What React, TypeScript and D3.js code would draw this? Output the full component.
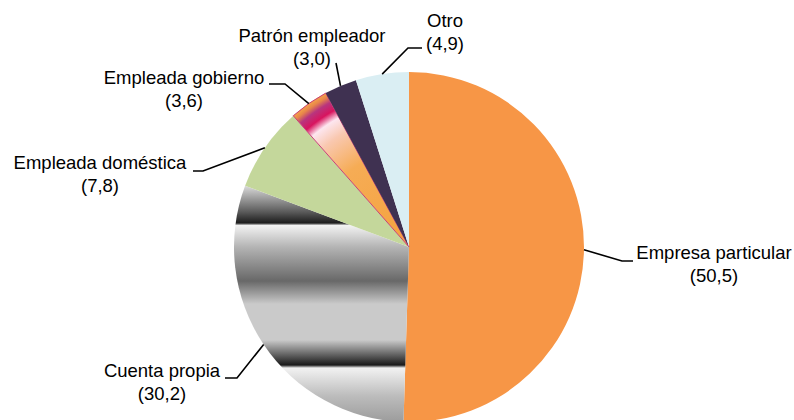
import React from "react";
import * as d3 from "d3";

const categories = [
  "Empresa particular",
  "Cuenta propia",
  "Empleada doméstica",
  "Empleada gobierno",
  "Patrón empleador",
  "Otro"
];
const values = [50.5, 30.2, 7.8, 3.6, 3.0, 4.9];
const valueLabels = ["(50,5)", "(30,2)", "(7,8)", "(3,6)", "(3,0)", "(4,9)"];

const width = 794;
const height = 420;
const cx = 409;
const cy = 247;
const radius = 175;

const fills = [
  "#F79646",
  "url(#chrome)",
  "#C4D79B",
  "url(#gobierno)",
  "#3F3151",
  "#DAEEF3"
];

// label layout: text center, first baseline, leader elbow points (absolute)
const labelLayout = [
  { x: 714, y: 259, pts: [[622, 261], [633, 261]] },
  { x: 162, y: 377, pts: [[237, 378], [225, 378]] },
  { x: 100, y: 169, pts: [[203, 171], [193, 171]] },
  { x: 184, y: 84, pts: [[285, 84], [269, 84]] },
  { x: 312, y: 42, pts: [[336, 63]] },
  { x: 445, y: 27, pts: [[408, 48], [422, 48]] }
];

// chrome stripes for "Cuenta propia" (absolute y, colour)
const chromeStops: [number, string][] = [
  [185, "#dedede"],
  [212, "#5a5a5a"],
  [223, "#1c1c1c"],
  [225.5, "#f2f2f2"],
  [247, "#b4b4b4"],
  [281, "#686868"],
  [304, "#cacaca"],
  [340, "#cacaca"],
  [357, "#525252"],
  [365, "#1a1a1a"],
  [368, "#f2f2f2"],
  [396, "#bcbcbc"],
  [422, "#9c9c9c"]
];

const gobiernoStops: [number, string][] = [
  [0, "#f4a23e"],
  [0.55, "#f6ac55"],
  [0.75, "#f9c8b0"],
  [0.84, "#fde6ef"],
  [0.89, "#d8145e"],
  [0.94, "#b8357e"],
  [0.975, "#e8864a"],
  [1, "#f3a24a"]
];

export default function App() {
  const pie = d3
    .pie<number>()
    .value(d => d)
    .sort(null)
    .startAngle(0)
    .endAngle(2 * Math.PI);
  const arcs = pie(values);
  const arc = d3.arc<d3.PieArcDatum<number>>().innerRadius(0).outerRadius(radius);

  const yTop = chromeStops[0][0];
  const yBot = chromeStops[chromeStops.length - 1][0];
  const off = d3.scaleLinear().domain([yTop, yBot]).range([0, 1]);

  return (
    <svg
      width={width}
      height={height}
      viewBox={`0 0 ${width} ${height}`}
      style={{ position: "absolute", left: 0, top: 0, background: "#fff" }}
    >
      <defs>
        <linearGradient
          id="chrome"
          gradientUnits="userSpaceOnUse"
          x1={0}
          x2={0}
          y1={yTop - cy}
          y2={yBot - cy}
        >
          {chromeStops.map(([y, c], i) => (
            <stop key={i} offset={off(y)} stopColor={c} />
          ))}
        </linearGradient>
        <radialGradient id="gobierno" gradientUnits="userSpaceOnUse" cx={0} cy={0} r={radius}>
          {gobiernoStops.map(([o, c], i) => (
            <stop key={i} offset={o} stopColor={c} />
          ))}
        </radialGradient>
      </defs>
      <g transform={`translate(${cx},${cy})`}>
        {arcs.map((a, i) => (
          <path
            key={i}
            d={arc(a) || ""}
            fill={fills[i]}
            stroke={i === 3 ? "#c9407a" : "none"}
            strokeWidth={i === 3 ? 1 : 0}
          />
        ))}
      </g>
      <g fontFamily="Liberation Sans, Arial, sans-serif" fontSize={18.5} fill="#000">
        {arcs.map((a, i) => {
          const mid = (a.startAngle + a.endAngle) / 2;
          const start: [number, number] = [cx + radius * Math.sin(mid), cy - radius * Math.cos(mid)];
          const L = labelLayout[i];
          const line = d3.line()([start, ...(L.pts as [number, number][])]);
          return (
            <g key={i}>
              <path d={line || ""} fill="none" stroke="#000" strokeWidth={1.6} />
              <text x={L.x} y={L.y} textAnchor="middle">
                {categories[i]}
              </text>
              <text x={L.x} y={L.y + 23} textAnchor="middle">
                {valueLabels[i]}
              </text>
            </g>
          );
        })}
      </g>
    </svg>
  );
}
